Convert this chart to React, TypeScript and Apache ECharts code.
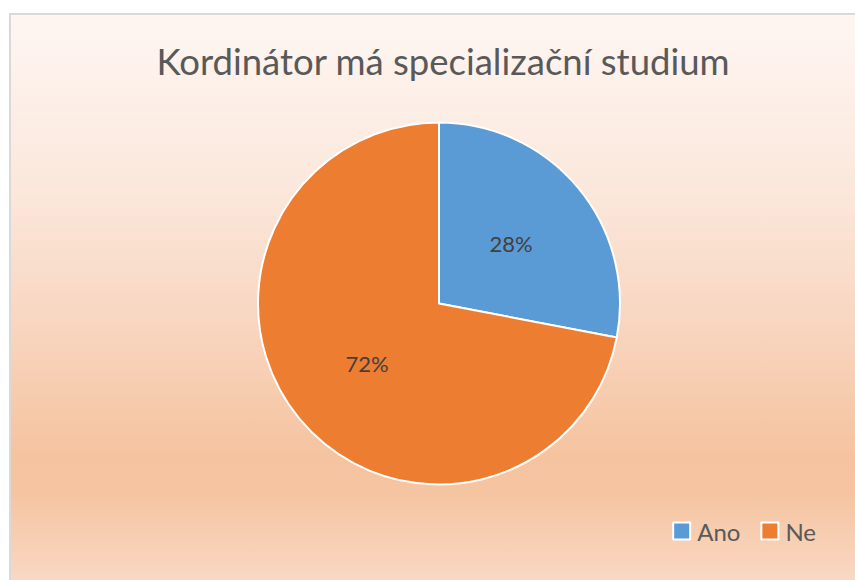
import React, { useEffect, useRef } from "react";
import * as echarts from "echarts";

const categories = ["Ano", "Ne"];
const values = [28, 72];
const colors = ["#5b9bd5", "#ed7d31"];
const titleText = "Kordinátor má specializační studium";

export default function App() {
  const ref = useRef<HTMLDivElement>(null);
  useEffect(() => {
    if (!ref.current) return;
    const chart = echarts.init(ref.current, null, { renderer: "svg" });
    chart.setOption({
      animation: false,
      title: {
        text: titleText,
        left: 438,
        textAlign: "center",
        top: 37,
        textStyle: { fontFamily: "Lato", fontSize: 36.5, fontWeight: "normal", color: "#595959" },
      },
      legend: {
        data: categories,
        right: 34,
        top: 514,
        itemWidth: 17,
        itemHeight: 17,
        itemGap: 20,
        icon: "rect",
        textStyle: { fontFamily: "Lato", fontSize: 24, color: "#595959", padding: [0, 0, 0, 2] },
        itemStyle: { borderColor: "#ffffff", borderWidth: 2 },
      },
      series: [
        {
          type: "pie",
          center: [439, 303.5],
          radius: 181,
          startAngle: 90,
          clockwise: true,
          data: categories.map((c, i) => ({ name: c, value: values[i], itemStyle: { color: colors[i] } })),
          itemStyle: { borderColor: "#ffffff", borderWidth: 2 },
          label: {
            show: true,
            position: "inside",
            formatter: "{d}%",
            fontFamily: "Lato",
            fontSize: 22,
            color: "#404040",
          },
          labelLine: { show: false },
          emphasis: { disabled: true },
        },
      ],
    });
    return () => chart.dispose();
  }, []);
  return (
    <div style={{ position: "fixed", left: 0, top: 0, width: 855, height: 580, background: "#ffffff", overflow: "hidden" }}>
      <div
        style={{
          position: "absolute",
          left: 9,
          top: 13,
          width: 900,
          height: 600,
          border: "2px solid #d9d9d9",
          boxSizing: "border-box",
          background:
            "linear-gradient(to bottom, #fef6f2 0%, #fbe7db 30%, #f8d3bb 55%, #f5c39f 74%, #f5c4a1 80%, #f9d8c3 95%, #fadcc8 100%)",
        }}
      />
      <div ref={ref} style={{ position: "absolute", left: 0, top: 0, width: 855, height: 580 }} />
    </div>
  );
}
